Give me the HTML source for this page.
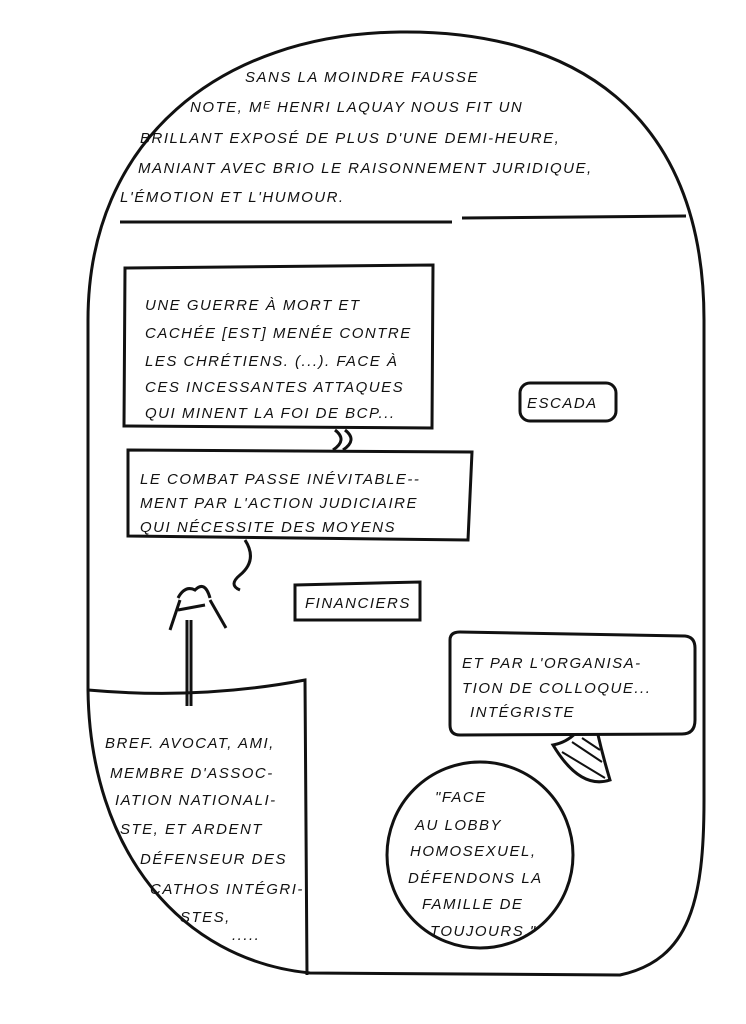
<!DOCTYPE html>
<html><head><meta charset="utf-8"><style>
html,body{margin:0;padding:0;background:#fff;}
svg{display:block}
text{font-family:"Liberation Sans",sans-serif;font-style:italic;fill:#111;font-size:15px;letter-spacing:1.5px}
</style></head><body>
<svg width="746" height="1024" viewBox="0 0 746 1024" xmlns="http://www.w3.org/2000/svg">
<rect width="746" height="1024" fill="#fff"/>
<g fill="none" stroke="#111" stroke-width="3">
<path d="M88,690 C90,850 180,960 310,973 L620,975 C690,960 704,900 704,800 L704,320 C704,110 570,30 400,32 C220,34 88,140 88,320 Z"/>
<line x1="120" y1="222" x2="452" y2="222"/>
<line x1="462" y1="218" x2="686" y2="216"/>
<path d="M125,268 L433,265 L432,428 L124,426 Z"/>
<path d="M128,450 L472,452 L468,540 L128,536 Z"/>
<path d="M335,430 Q348,440 333,450 M345,430 Q358,440 343,450"/>
<rect x="520" y="383" width="96" height="38" rx="10"/>
<path d="M295,585 L420,582 L420,620 L295,620 Z"/>
<path d="M245,540 Q258,560 240,575 Q228,585 240,590"/>
<path d="M553,745 Q580,740 592,705 Q598,740 610,780 Q580,790 553,745 Z" fill="#fff"/>
<path d="M450,640 Q450,632 460,632 L685,636 Q695,637 695,648 L695,720 Q695,734 682,734 L460,735 Q450,735 450,725 Z" fill="#fff"/>
<path d="M88,690 Q200,700 305,680 L307,975"/>
<circle cx="480" cy="855" r="93"/>
<path d="M187,620 L187,706 M191,620 L191,706"/>
<path d="M178,598 Q185,585 195,590 Q205,580 210,598 M180,600 L170,630 M210,600 L226,628 M178,610 L205,605"/>
</g>
<path d="M562,752 L605,778 M572,742 L602,762 M582,738 L600,750" stroke="#111" stroke-width="2"/>
<g>
<text x="245" y="82">SANS LA MOINDRE FAUSSE</text>
<text x="190" y="112">NOTE, Mᴱ HENRI LAQUAY NOUS FIT UN</text>
<text x="140" y="143">BRILLANT EXPOSÉ DE PLUS D'UNE DEMI-HEURE,</text>
<text x="138" y="173">MANIANT AVEC BRIO LE RAISONNEMENT JURIDIQUE,</text>
<text x="120" y="202">L'ÉMOTION ET L'HUMOUR.</text>
<text x="145" y="310">UNE GUERRE À MORT ET</text>
<text x="145" y="338">CACHÉE [EST] MENÉE CONTRE</text>
<text x="145" y="366">LES CHRÉTIENS. (...). FACE À</text>
<text x="145" y="392">CES INCESSANTES ATTAQUES</text>
<text x="145" y="418">QUI MINENT LA FOI DE BCP...</text>
<text x="527" y="408">ESCADA</text>
<text x="140" y="484" font-size="13">LE COMBAT PASSE INÉVITABLE--</text>
<text x="140" y="508" font-size="13">MENT PAR L'ACTION JUDICIAIRE</text>
<text x="140" y="532" font-size="13">QUI NÉCESSITE DES MOYENS</text>
<text x="305" y="608">FINANCIERS</text>
<text x="462" y="668" font-size="13">ET PAR L'ORGANISA-</text>
<text x="462" y="693" font-size="13">TION DE COLLOQUE...</text>
<text x="470" y="717" font-size="12">INTÉGRISTE</text>
<text x="105" y="748">BREF. AVOCAT, AMI,</text>
<text x="110" y="778">MEMBRE D'ASSOC-</text>
<text x="115" y="805">IATION NATIONALI-</text>
<text x="120" y="834">STE, ET ARDENT</text>
<text x="140" y="864">DÉFENSEUR DES</text>
<text x="150" y="894">CATHOS INTÉGRI-</text>
<text x="180" y="922">STES,</text>
<text x="232" y="940">.....</text>
<text x="435" y="802">"FACE</text>
<text x="415" y="830" font-size="13">AU LOBBY</text>
<text x="410" y="856" font-size="13">HOMOSEXUEL,</text>
<text x="408" y="883" font-size="13">DÉFENDONS LA</text>
<text x="422" y="909" font-size="13">FAMILLE DE</text>
<text x="430" y="936" font-size="13">TOUJOURS."</text>
</g>
</svg>
</body></html>
